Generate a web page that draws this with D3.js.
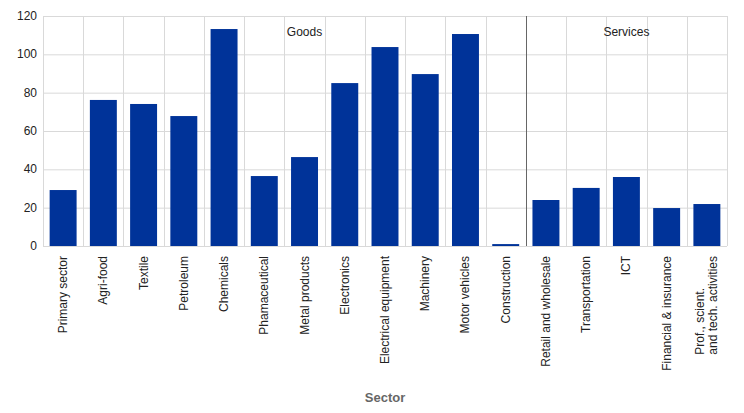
<!DOCTYPE html>
<html>
<head>
<meta charset="utf-8">
<script src="https://cdn.jsdelivr.net/npm/d3@7"></script>
<style>
  body { margin: 0; background: #fff; }
  svg { font-family: "Liberation Sans", Arial, sans-serif; }
</style>
</head>
<body>
<svg></svg>
<script>
let sectors = ['Primary sector', 'Agri-food', 'Textile', 'Petroleum', 'Chemicals', 'Phamaceutical',
    'Metal products', 'Electronics', 'Electrical equipment', 'Machinery', 'Motor vehicles', 'Construction',
    'Retail and wholesale', 'Transportation', 'ICT', 'Financial & insurance', 'Prof., scient.|and tech. activities']
let values = [29.2, 76.2, 74.1, 67.8, 113.2, 36.5, 46.4, 85.0, 103.8, 89.7, 110.6, 1.0,
    24.0, 30.3, 36.0, 19.8, 21.9]
let yTicks = [0, 20, 40, 60, 80, 100, 120]
// group names and the category each name sits over
let groupNames = ['Goods', 'Services']
let groupAt = ['Metal products', 'ICT']
let splitBefore = 'Retail and wholesale'

let w = 744
let h = 413
let plotLeft = 43, plotRight = 727, plotTop = 16, plotBottom = 246

let svg = d3.select('svg').attr('width', w).attr('height', h)

let xScale = d3.scaleBand().domain(sectors).range([plotLeft, plotRight]).paddingInner(0.33).paddingOuter(0.165)
let bandScale = d3.scaleBand().domain(sectors).range([plotLeft, plotRight])
let yScale = d3.scaleLinear().domain([0, 120]).range([plotBottom, plotTop])

// horizontal grid
svg.append('g').selectAll('line')
    .data(yTicks)
    .enter()
    .append('line')
    .attr('x1', plotLeft).attr('x2', plotRight)
    .attr('y1', d => yScale(d) + 0.5).attr('y2', d => yScale(d) + 0.5)
    .attr('stroke', '#d9d9d9')

// vertical grid at band edges
let edges = sectors.map(s => bandScale(s)).concat([plotRight])
svg.append('g').selectAll('line')
    .data(edges)
    .enter()
    .append('line')
    .attr('x1', d => Math.round(d) + 0.5).attr('x2', d => Math.round(d) + 0.5)
    .attr('y1', plotTop).attr('y2', plotBottom)
    .attr('stroke', '#d9d9d9')

// bars
svg.append('g').selectAll('rect')
    .data(values)
    .enter()
    .append('rect')
    .attr('x', (d, i) => xScale(sectors[i]))
    .attr('width', xScale.bandwidth())
    .attr('y', d => yScale(d))
    .attr('height', d => plotBottom - yScale(d))
    .attr('fill', '#003399')

// separator between goods and services
let sepX = Math.round(bandScale(splitBefore)) + 0.5
svg.append('line')
    .attr('x1', sepX).attr('x2', sepX)
    .attr('y1', plotTop).attr('y2', plotBottom)
    .attr('stroke', '#666')

// group labels
svg.append('g').selectAll('text')
    .data(groupNames)
    .enter()
    .append('text')
    .attr('x', (d, i) => bandScale(groupAt[i]) + bandScale.bandwidth() / 2)
    .attr('y', 36)
    .attr('text-anchor', 'middle')
    .attr('font-size', 12)
    .attr('fill', '#222')
    .text(d => d)

// y axis labels
svg.append('g').selectAll('text')
    .data(yTicks)
    .enter()
    .append('text')
    .attr('x', 37)
    .attr('y', d => yScale(d) + 4)
    .attr('text-anchor', 'end')
    .attr('font-size', 12)
    .attr('fill', '#222')
    .text(d => d)

// x axis labels, rotated; multi-line labels share their start edge
let xLabels = svg.append('g').selectAll('text')
    .data(sectors)
    .enter()
    .append('text')
    .attr('font-size', 12)
    .attr('fill', '#222')

xLabels.each(function (d) {
    let lines = d.split('|')
    let t = d3.select(this)
    lines.forEach((line, i) => {
        t.append('tspan')
            .attr('x', 0)
            .attr('y', 4 + (i - (lines.length - 1) / 2) * 13)
            .text(line)
    })
    let maxLen = d3.max(t.selectAll('tspan').nodes(), n => n.getComputedTextLength())
    t.attr('transform', 'translate(' + (bandScale(d) + bandScale.bandwidth() / 2) + ',' + (256 + maxLen) + ') rotate(-90)')
})

// axis title
svg.append('text')
    .attr('x', (plotLeft + plotRight) / 2)
    .attr('y', 402)
    .attr('text-anchor', 'middle')
    .attr('font-size', 13)
    .attr('font-weight', 'bold')
    .attr('fill', '#666')
    .text('Sector')
</script>
</body>
</html>
